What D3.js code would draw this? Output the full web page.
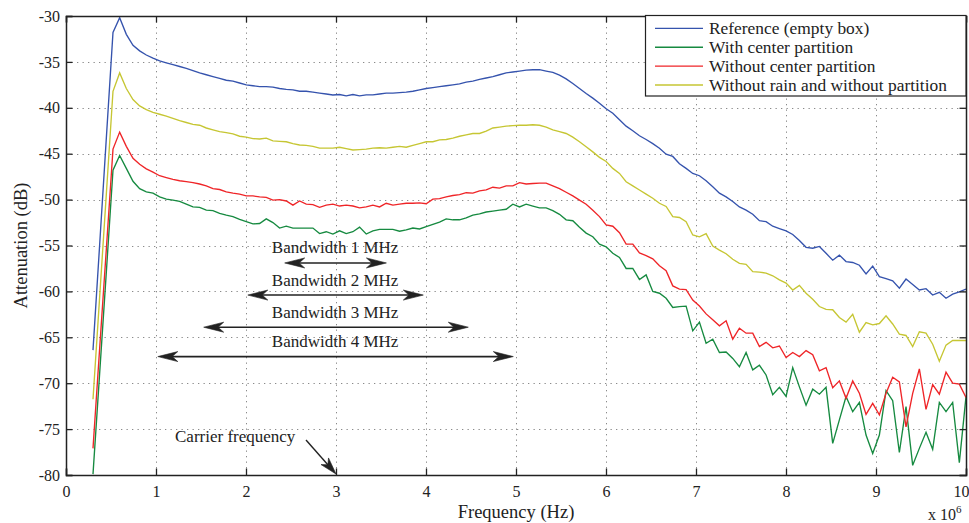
<!DOCTYPE html>
<html><head><meta charset="utf-8">
<script src="https://cdn.jsdelivr.net/npm/d3@7"></script>
<style>
html,body{margin:0;padding:0;background:#fff;}
svg{display:block;font-family:"Liberation Serif","Times New Roman",serif;}
</style></head><body>
<svg id="chart" width="969" height="523"></svg>
<script>
// ---- sweep (x axis): linear frequency sweep of the analyser, in MHz (axis is x 10^6 Hz)
const sweepStartMHz = 0.3;
const sweepStopMHz = 10;
const sweepPoints = 132;

const xTickValues = [0, 1, 2, 3, 4, 5, 6, 7, 8, 9, 10];
const yTickValues = [-30, -35, -40, -45, -50, -55, -60, -65, -70, -75, -80];

const seriesNames = ["Reference (empty box)", "With center partition", "Without center partition", "Without rain and without partition"];
const seriesColors = ["#3553ad", "#168a40", "#ef2528", "#c6c633"];

// attenuation in dB, one value per sweep point
const referenceEmptyBox = [
-66.4,-54.9,-43.3,-31.8,-30.2,-32.0,-33.2,-33.8,-34.25,-34.6,
-34.9,-35.1,-35.3,-35.5,-35.7,-35.95,-36.2,-36.4,-36.6,-36.8,
-37.0,-37.1,-37.3,-37.5,-37.6,-37.7,-37.7,-37.75,-37.9,-38.0,
-38.05,-38.2,-38.2,-38.3,-38.4,-38.5,-38.6,-38.55,-38.7,-38.55,
-38.7,-38.6,-38.6,-38.5,-38.4,-38.4,-38.35,-38.3,-38.2,-38.05,
-37.9,-37.8,-37.7,-37.6,-37.5,-37.4,-37.2,-37.1,-36.9,-36.75,
-36.6,-36.4,-36.2,-36.1,-36.0,-35.9,-35.85,-35.85,-36.0,-36.15,
-36.45,-36.85,-37.35,-37.9,-38.45,-38.95,-39.5,-40.1,-40.6,-41.3,
-42.0,-42.5,-43.05,-43.45,-43.9,-44.4,-45.05,-45.3,-46.1,-46.6,
-47.15,-47.4,-47.95,-48.6,-49.3,-49.7,-50.2,-50.8,-51.15,-51.6,
-52.3,-52.4,-52.9,-53.15,-53.4,-53.8,-54.45,-55.2,-55.3,-55.1,
-55.85,-56.6,-56.05,-56.75,-56.85,-57.15,-58.1,-57.25,-58.4,-58.6,
-58.85,-59.65,-58.65,-59.25,-59.85,-59.7,-60.4,-60.1,-60.75,-60.3,
-60.05,-59.75];
const withCenterPartition = [
-79.9,-68.9,-57.9,-46.8,-45.2,-46.6,-48.0,-48.8,-49.15,-49.3,
-49.7,-49.95,-50.05,-50.2,-50.5,-50.8,-50.85,-51.15,-51.2,-51.5,
-51.7,-51.85,-52.15,-52.4,-52.65,-52.6,-52.1,-52.5,-53.1,-52.9,
-53.1,-53.1,-53.1,-53.1,-53.7,-53.5,-53.75,-53.4,-53.7,-53.5,
-53.0,-53.75,-53.4,-53.25,-53.25,-53.25,-53.45,-53.3,-53.1,-53.2,
-52.95,-52.7,-52.45,-52.1,-52.2,-52.2,-52.0,-51.7,-51.55,-51.35,
-51.25,-51.15,-51.05,-50.5,-50.8,-50.5,-50.7,-50.9,-50.9,-51.2,
-51.6,-52.2,-52.3,-53.0,-53.65,-54.05,-54.85,-55.15,-55.85,-56.3,
-57.5,-57.5,-58.7,-58.2,-60.0,-60.2,-60.75,-61.75,-61.65,-61.6,
-64.3,-63.35,-65.65,-65.2,-66.65,-66.6,-67.3,-68.2,-66.65,-68.55,
-68.05,-69.1,-71.25,-70.45,-71.45,-68.3,-70.4,-72.4,-70.65,-71.2,
-70.45,-76.55,-74.0,-71.45,-73.1,-72.1,-75.65,-77.65,-75.65,-70.8,
-71.9,-77.55,-72.55,-78.95,-77.1,-75.35,-77.2,-72.1,-73.1,-72.1,
-78.65,-71.45];
const withoutCenterPartition = [
-77.1,-66.2,-55.4,-44.5,-42.65,-44.2,-45.5,-46.15,-46.65,-47.0,
-47.4,-47.6,-47.8,-47.95,-48.05,-48.15,-48.3,-48.5,-48.8,-48.9,
-49.15,-49.3,-49.4,-49.6,-49.6,-49.7,-49.75,-50.05,-50.0,-50.15,
-50.6,-50.15,-50.5,-50.55,-50.85,-50.6,-50.5,-50.7,-50.6,-50.7,
-50.9,-50.8,-50.6,-50.8,-50.4,-50.6,-50.5,-50.4,-50.4,-50.35,
-50.45,-49.95,-49.9,-49.7,-49.55,-49.45,-49.25,-49.3,-49.05,-48.95,
-48.65,-48.75,-48.5,-48.5,-48.15,-48.3,-48.25,-48.2,-48.2,-48.5,
-48.8,-49.2,-49.6,-50.05,-50.5,-51.15,-51.85,-52.75,-52.9,-53.6,
-54.85,-54.85,-55.8,-56.1,-56.45,-57.2,-57.75,-59.4,-59.75,-59.8,
-60.95,-61.6,-62.45,-63.1,-63.75,-63.2,-65.2,-64.0,-64.55,-64.55,
-66.0,-65.55,-66.15,-65.95,-67.2,-66.65,-67.1,-66.45,-66.9,-68.65,
-68.3,-70.5,-69.75,-71.65,-69.75,-71.1,-73.4,-72.2,-73.45,-71.1,
-69.35,-69.85,-74.75,-71.1,-68.45,-72.85,-70.15,-71.2,-68.8,-70.0,
-70.1,-71.55];
const withoutRainWithoutPartition = [
-71.75,-60.6,-49.4,-38.2,-36.2,-37.9,-39.1,-39.8,-40.2,-40.5,
-40.7,-40.9,-41.15,-41.4,-41.6,-41.8,-41.9,-42.2,-42.4,-42.6,
-42.7,-42.85,-43.1,-43.2,-43.35,-43.4,-43.3,-43.6,-43.65,-43.7,
-43.9,-44.05,-44.1,-44.2,-44.4,-44.4,-44.4,-44.3,-44.45,-44.6,
-44.55,-44.5,-44.4,-44.35,-44.4,-44.3,-44.2,-44.3,-44.1,-43.9,
-43.7,-43.7,-43.5,-43.45,-43.3,-43.1,-42.95,-42.8,-42.8,-42.55,
-42.2,-42.1,-42.0,-41.95,-41.9,-41.9,-41.85,-41.9,-42.1,-42.4,
-42.6,-42.8,-43.2,-43.7,-44.25,-44.8,-45.4,-45.85,-46.6,-47.15,
-48.05,-48.5,-48.95,-49.4,-49.85,-50.4,-50.75,-51.85,-51.95,-52.4,
-53.85,-54.05,-53.7,-55.05,-55.5,-55.9,-56.5,-56.95,-57.05,-57.85,
-57.9,-58.0,-58.3,-58.75,-59.1,-59.85,-59.35,-60.2,-60.85,-61.65,
-61.95,-62.0,-62.85,-63.35,-62.5,-64.45,-63.4,-63.65,-63.5,-62.65,
-63.55,-64.65,-64.8,-66.0,-64.4,-64.55,-65.75,-67.6,-65.85,-65.35,
-65.35,-65.35];

// annotations (data coordinates)
const bandwidthLabels = ["Bandwidth 1 MHz", "Bandwidth 2 MHz", "Bandwidth 3 MHz", "Bandwidth 4 MHz"];
const bandwidthArrowFromMHz = [2.43, 2.02, 1.53, 1.02];
const bandwidthArrowToMHz = [3.56, 3.97, 4.47, 4.97];
const bandwidthArrowDb = [-56.9, -60.4, -63.9, -67.1];
const bandwidthLabelMHz = 2.99;
const carrierLabel = "Carrier frequency";
const carrierMHz = 3;

// ---- layout
const W = 969, H = 523;
const m = {left: 66, right: 3, top: 16, bottom: 48};
const svg = d3.select("#chart");
const x = d3.scaleLinear().domain([0, 10]).range([m.left, W - m.right]);
const y = d3.scaleLinear().domain([-80, -30]).range([H - m.bottom, m.top]);
const ink = "#222";
const fmt = d => String(d);   // plain hyphen for negatives, as in the original

const freqs = d3.range(sweepPoints).map(i => sweepStartMHz + i * (sweepStopMHz - sweepStartMHz) / (sweepPoints - 1));
const series = [referenceEmptyBox, withCenterPartition, withoutCenterPartition, withoutRainWithoutPartition];

// grid
const grid = svg.append("g").attr("stroke", "#8a8a8a").attr("stroke-width", 1).attr("stroke-dasharray", "1.3,4.2");
grid.selectAll("line.gx").data(xTickValues.slice(1, -1)).join("line")
  .attr("x1", d => Math.round(x(d)) + 0.5).attr("x2", d => Math.round(x(d)) + 0.5)
  .attr("y1", y(-30)).attr("y2", y(-80));
grid.selectAll("line.gy").data(yTickValues.slice(1, -1)).join("line")
  .attr("y1", d => Math.round(y(d)) + 0.5).attr("y2", d => Math.round(y(d)) + 0.5)
  .attr("x1", x(0)).attr("x2", x(10));

// data lines
svg.append("clipPath").attr("id", "clip").append("rect")
  .attr("x", x(0)).attr("y", y(-30)).attr("width", x(10) - x(0)).attr("height", y(-80) - y(-30));
const line = d3.line().x((d, i) => x(freqs[i])).y(d => y(d));
svg.append("g").attr("clip-path", "url(#clip)")
  .selectAll("path").data(series).join("path")
  .attr("d", line).attr("fill", "none")
  .attr("stroke", (d, i) => seriesColors[i]).attr("stroke-width", 1.35);

// axes (MATLAB box with inward ticks)
const tickLen = 6.5;
const axB = svg.append("g").attr("transform", `translate(0,${y(-80)})`)
  .call(d3.axisBottom(x).tickValues(xTickValues).tickSize(-tickLen).tickPadding(11).tickFormat(fmt));
const axT = svg.append("g").attr("transform", `translate(0,${y(-30)})`)
  .call(d3.axisTop(x).tickValues(xTickValues).tickSize(-tickLen).tickFormat(""));
const axL = svg.append("g").attr("transform", `translate(${x(0)},0)`)
  .call(d3.axisLeft(y).tickValues(yTickValues).tickSize(-tickLen).tickPadding(6).tickFormat(fmt));
const axR = svg.append("g").attr("transform", `translate(${x(10)},0)`)
  .call(d3.axisRight(y).tickValues(yTickValues).tickSize(-tickLen).tickFormat(""));
[axB, axT, axL, axR].forEach(a => {
  a.select(".domain").attr("stroke", ink).attr("stroke-width", 1.5);
  a.selectAll(".tick line").attr("stroke", ink).attr("stroke-width", 1.3);
  a.selectAll(".tick text").attr("fill", ink).attr("font-size", 16)
    .attr("font-family", '"Liberation Serif","Times New Roman",serif');
});
axB.selectAll(".tick text").attr("dy", "0.71em");
// keep the last label inside the page edge
axB.selectAll(".tick text").filter(d => d === 10).attr("text-anchor", "end").attr("x", 3);

// axis titles
svg.append("text").attr("x", (x(0) + x(10)) / 2).attr("y", 518).attr("text-anchor", "middle")
  .attr("font-size", 18.5).attr("fill", ink).text("Frequency (Hz)");
svg.append("text").attr("transform", `translate(27,${(y(-30) + y(-80)) / 2}) rotate(-90)`)
  .attr("text-anchor", "middle").attr("font-size", 18.5).attr("fill", ink).text("Attenuation (dB)");
const mult = svg.append("text").attr("x", 928).attr("y", 520).attr("font-size", 16).attr("fill", ink);
mult.append("tspan").text("x 10");
mult.append("tspan").attr("dy", -7).attr("font-size", 11).text("6");

// arrowhead helper (concave back, filled)
function arrowHead(g, tipX, tipY, angle, L, Wd) {
  const pts = [[0, 0], [-L, -Wd / 2], [-L * 0.72, 0], [-L, Wd / 2]];
  g.append("path")
    .attr("d", "M" + pts.map(p => p.join(",")).join("L") + "Z")
    .attr("transform", `translate(${tipX},${tipY}) rotate(${angle})`)
    .attr("fill", ink).attr("stroke", ink).attr("stroke-width", 0.6);
}

// bandwidth annotations
const ann = svg.append("g");
bandwidthLabels.forEach((lab, i) => {
  const yy = y(bandwidthArrowDb[i]);
  const x1 = x(bandwidthArrowFromMHz[i]), x2 = x(bandwidthArrowToMHz[i]);
  ann.append("line").attr("x1", x1 + 10).attr("x2", x2 - 10).attr("y1", yy).attr("y2", yy)
    .attr("stroke", ink).attr("stroke-width", 1.6);
  arrowHead(ann, x2, yy, 0, 20, 10);
  arrowHead(ann, x1, yy, 180, 20, 10);
  ann.append("text").attr("x", x(bandwidthLabelMHz)).attr("y", yy - 9.5).attr("text-anchor", "middle")
    .attr("font-size", 17).attr("fill", ink).text(lab);
});

// carrier frequency annotation
const cTipX = x(carrierMHz), cTipY = y(-80) - 1;
const cFromX = cTipX - 30, cFromY = cTipY - 34;
const cAng = Math.atan2(cTipY - cFromY, cTipX - cFromX) * 180 / Math.PI;
ann.append("line").attr("x1", cFromX).attr("y1", cFromY)
  .attr("x2", cTipX - 12 * Math.cos(cAng * Math.PI / 180)).attr("y2", cTipY - 12 * Math.sin(cAng * Math.PI / 180))
  .attr("stroke", ink).attr("stroke-width", 1.4);
arrowHead(ann, cTipX, cTipY, cAng, 17, 10);
ann.append("text").attr("x", 175).attr("y", 442).attr("font-size", 17).attr("fill", ink).text(carrierLabel);

// legend
const lg = svg.append("g");
lg.append("rect").attr("x", 645.5).attr("y", 15.5).attr("width", x(10) - 645.5).attr("height", 80.5)
  .attr("fill", "#fff").attr("stroke", ink).attr("stroke-width", 1.2);
seriesNames.forEach((name, i) => {
  const ry = 28.3 + i * 18.9;
  lg.append("line").attr("x1", 655).attr("x2", 703).attr("y1", ry).attr("y2", ry)
    .attr("stroke", seriesColors[i]).attr("stroke-width", 1.35);
  lg.append("text").attr("x", 709).attr("y", ry + 6).attr("font-size", 17.4).attr("fill", ink).text(name);
});
</script>
</body></html>
